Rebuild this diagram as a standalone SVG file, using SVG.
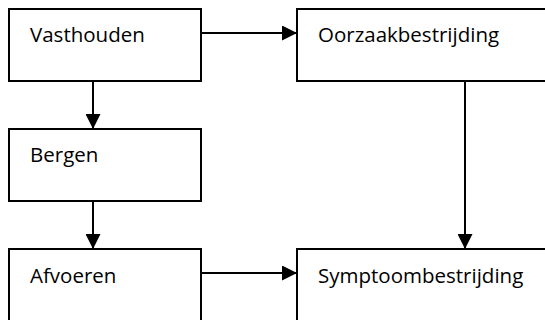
<svg xmlns="http://www.w3.org/2000/svg" width="545" height="320" viewBox="0 0 545 320">
  <defs>
    <marker id="arrow" markerWidth="15" markerHeight="15" viewBox="0 0 15 15" refX="15" refY="7.5" orient="auto" markerUnits="userSpaceOnUse">
      <path d="M0,0 L15,7.5 L0,15 Z" fill="#000"/>
    </marker>
    <style>
      .box { fill: #fff; stroke: #000; stroke-width: 2; }
      .label { font-family: "Open Sans", "Liberation Sans", sans-serif; font-size: 20.5px; fill: #000; }
      .conn { stroke: #000; stroke-width: 2; fill: none; marker-end: url(#arrow); }
    </style>
  </defs>
  <rect width="545" height="320" fill="#fff"/>
  <g id="vasthouden">
    <rect class="box" x="9" y="9" width="192" height="72"/>
    <text class="label" x="30" y="42">Vasthouden</text>
  </g>
  <g id="bergen">
    <rect class="box" x="9" y="129" width="192" height="72"/>
    <text class="label" x="30" y="162">Bergen</text>
  </g>
  <g id="afvoeren">
    <rect class="box" x="9" y="249" width="192" height="80"/>
    <text class="label" x="30" y="283">Afvoeren</text>
  </g>
  <g id="oorzaakbestrijding">
    <rect class="box" x="297" y="9" width="260" height="72"/>
    <text class="label" x="318" y="42">Oorzaakbestrijding</text>
  </g>
  <g id="symptoombestrijding">
    <rect class="box" x="297" y="249" width="260" height="80"/>
    <text class="label" x="318" y="283">Symptoombestrijding</text>
  </g>
  <g id="connectors">
    <line class="conn" x1="201" y1="33" x2="297" y2="33"/>
    <line class="conn" x1="93" y1="81" x2="93" y2="129"/>
    <line class="conn" x1="93" y1="201" x2="93" y2="249"/>
    <line class="conn" x1="465" y1="81" x2="465" y2="249"/>
    <line class="conn" x1="201" y1="273" x2="297" y2="273"/>
  </g>
</svg>
